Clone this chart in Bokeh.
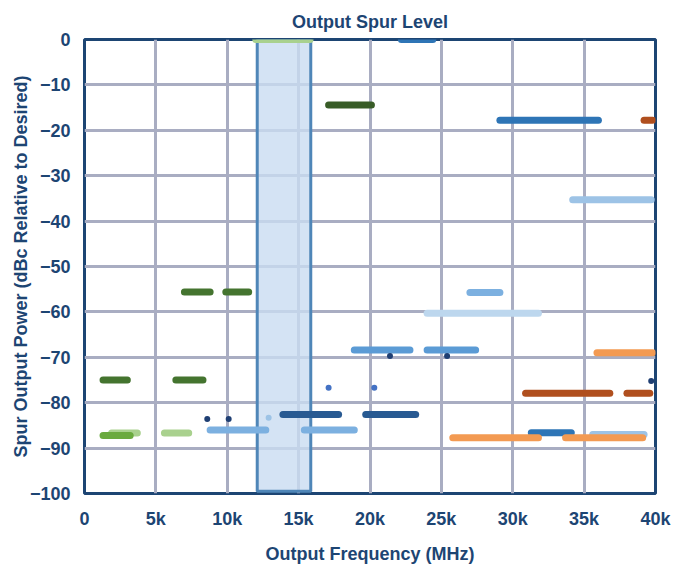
from bokeh.plotting import figure
from bokeh.models import FixedTicker, ColumnDataSource
from bokeh.embed import file_html
from bokeh.resources import INLINE

# ---- data (MHz, dBc) ----
series_names = ["g_dark", "g_darker", "g_light", "g_mid", "blue", "blue_dark",
                "blue_mid", "blue_lm", "blue_vl", "blue_l", "orange", "brown"]
series_colors = ["#44742f", "#385c27", "#a9d18e", "#6aaa3e", "#2e75b6", "#285a92",
                 "#5b9bd5", "#7cb0e0", "#bdd7ee", "#9dc3e6", "#f39a52", "#b04f1e"]

seg_series = ["g_dark", "g_dark", "g_dark", "g_dark",
              "g_darker",
              "g_light", "g_light", "g_light",
              "g_mid",
              "blue", "blue", "blue",
              "blue_dark", "blue_dark",
              "blue_mid", "blue_mid",
              "blue_lm", "blue_lm", "blue_lm",
              "blue_vl",
              "blue_l", "blue_l",
              "orange", "orange", "orange",
              "brown", "brown", "brown"]
seg_start = [1300, 6400, 7000, 9900,
             17100,
             12000, 1900, 5600,
             1300,
             22200, 29100, 31300,
             13900, 19700,
             18900, 24000,
             27000, 8800, 15400,
             24000,
             34200, 35600,
             35900, 25800, 33700,
             30900, 38000, 39200]
seg_end = [3000, 8300, 8800, 11500,
           20100,
           15800, 3700, 7300,
           3200,
           24400, 36000, 34100,
           17800, 23200,
           22800, 27400,
           29100, 12700, 18900,
           31800,
           39700, 39200,
           39800, 31800, 39100,
           36800, 39600, 39800]
seg_level = [-75.0, -75.0, -55.6, -55.6,
             -14.4,
             0.0, -86.7, -86.7,
             -87.2,
             0.0, -17.8, -86.6,
             -82.6, -82.6,
             -68.4, -68.4,
             -55.7, -86.0, -86.0,
             -60.3,
             -35.3, -87.0,
             -69.0, -87.7, -87.7,
             -77.9, -77.9, -17.8]

dot_freq = [21400, 25400, 39700, 8600, 10100, 17100, 20300, 12900]
dot_level = [-69.7, -69.7, -75.2, -83.6, -83.6, -76.7, -76.7, -83.3]
dot_colors = ["#1f3f73", "#1f3f73", "#1f3f73", "#1f3f73", "#1f3f73",
              "#4472c4", "#4472c4", "#9dc3e6"]

band_start, band_end = 12100, 15850

x_ticks = [0, 5000, 10000, 15000, 20000, 25000, 30000, 35000, 40000]
x_tick_labels = ["0", "5k", "10k", "15k", "20k", "25k", "30k", "35k", "40k"]
y_ticks = [0, -10, -20, -30, -40, -50, -60, -70, -80, -90, -100]
y_tick_labels = ["0", "\u221210", "\u221220", "\u221230", "\u221240", "\u221250",
                 "\u221260", "\u221270", "\u221280", "\u221290", "\u2212100"]

NAVY = "#1d4573"
FONT = "Liberation Sans"

p = figure(width=691, height=566, output_backend="svg", toolbar_location=None,
           x_range=(0, 40000), y_range=(-100, 0),
           min_border_left=84, min_border_right=36, min_border_top=39, min_border_bottom=70,
           title="Output Spur Level")

p.title.align = "center"
p.title.text_font = FONT
p.title.text_font_size = "18px"
p.title.text_font_style = "bold"
p.title.text_color = NAVY
p.title.standoff = 16

p.outline_line_color = NAVY
p.outline_line_width = 3
p.background_fill_color = "white"

for ax in (p.xaxis[0], p.yaxis[0]):
    ax.major_tick_line_color = None
    ax.minor_tick_line_color = None
    ax.axis_line_color = None
    ax.major_label_text_font = FONT
    ax.major_label_text_font_style = "bold"
    ax.major_label_text_font_size = "18px"
    ax.major_label_text_color = NAVY
    ax.axis_label_text_font = FONT
    ax.axis_label_text_font_style = "bold"
    ax.axis_label_text_font_size = "18px"
    ax.axis_label_text_color = NAVY

p.xaxis.ticker = FixedTicker(ticks=x_ticks)
p.xaxis.major_label_overrides = dict(zip(x_ticks, x_tick_labels))
p.yaxis.ticker = FixedTicker(ticks=y_ticks)
p.yaxis.major_label_overrides = dict(zip(y_ticks, y_tick_labels))
p.xaxis.axis_label = "Output Frequency (MHz)"
p.yaxis.axis_label = "Spur Output Power (dBc Relative to Desired)"
p.xaxis.major_label_standoff = 9
p.xaxis.axis_label_standoff = 12
p.yaxis.major_label_standoff = 8
p.yaxis.axis_label_standoff = -4

p.grid.grid_line_color = "#a9adc2"
p.grid.grid_line_width = 3

# highlighted band
p.quad(left=[band_start], right=[band_end], bottom=[-99.5], top=[0],
       fill_color="#c9dcf1", fill_alpha=0.8, line_color="#4f86b8", line_width=3)

color_of = dict(zip(series_names, series_colors))
src = ColumnDataSource(dict(x0=seg_start, x1=seg_end, y=seg_level,
                            c=[color_of[s] for s in seg_series]))
p.segment(x0="x0", y0="y", x1="x1", y1="y", color="c", line_width=7,
          line_cap="round", source=src)

p.scatter(dot_freq, dot_level, size=6, color=dot_colors, line_color=None)

open("out.html", "w").write(file_html(p, INLINE))
